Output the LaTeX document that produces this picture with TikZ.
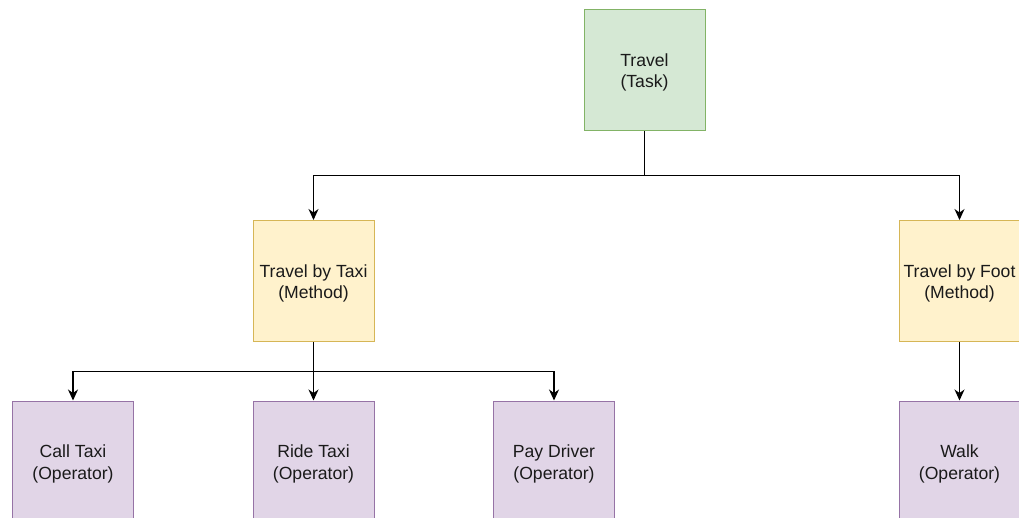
\documentclass[tikz,border=0pt]{standalone}
\usepackage{fontspec}
\setmainfont{Liberation Sans}
\usetikzlibrary{arrows.meta}
\definecolor{taskfill}{HTML}{D5E8D4}
\definecolor{taskline}{HTML}{82B366}
\definecolor{methfill}{HTML}{FFF2CC}
\definecolor{methline}{HTML}{D6B656}
\definecolor{opfill}{HTML}{E1D5E7}
\definecolor{opline}{HTML}{9673A6}
\definecolor{txt}{HTML}{1A1A1A}
\tikzset{
  box/.style={draw, line width=1pt, minimum width=121pt, minimum height=121pt,
    inner sep=0pt},
  caption/.style={label={[align=center, text=txt, inner sep=0pt, yshift=-2.5pt,
    font=\fontsize{17.6}{21.5}\selectfont]center:#1}},
  task/.style={box, fill=taskfill, draw=taskline},
  meth/.style={box, fill=methfill, draw=methline},
  oper/.style={box, fill=opfill, draw=opline},
  wire/.style={line width=1.3pt},
  arr/.style={wire, -{Stealth[length=11pt,width=10pt,inset=3.5pt]}}
}
\begin{document}
\begin{tikzpicture}[x=1pt,y=-1pt]
\useasboundingbox (0,0) rectangle (1019,517);
\clip (0,0) rectangle (1019,517);
% tree nodes
\node[task, caption={Travel\\(Task)}] (travel) at (644.5,70) {};
\node[meth, caption={Travel by Taxi\\(Method)}] (taxi) at (313.5,281) {};
\node[meth, caption={Travel by Foot\\(Method)}] (foot) at (959.5,281) {};
\node[oper, caption={Call Taxi\\(Operator)}] (call) at (73,461.5) {};
\node[oper, caption={Ride Taxi\\(Operator)}] (ride) at (313.5,461.5) {};
\node[oper, caption={Pay Driver\\(Operator)}] (pay) at (554,461.5) {};
\node[oper, caption={Walk\\(Operator)}] (walk) at (959.5,461.5) {};
% junctions on the horizontal buses
\coordinate (bus1) at (644.5,175.5);
\coordinate (bus2) at (313.5,371.5);
% connectors: trunk down to the bus, then branches to each child
\draw[wire] (travel.south) -- (bus1);
\draw[arr] (bus1) -| (taxi.north);
\draw[arr] (bus1) -| (foot.north);
\draw[arr] (taxi.south) -- (ride.north);
\draw[arr] (bus2) -| (call.north);
\draw[arr] (bus2) -| (pay.north);
\draw[arr] (foot.south) -- (walk.north);
\end{tikzpicture}
\end{document}
